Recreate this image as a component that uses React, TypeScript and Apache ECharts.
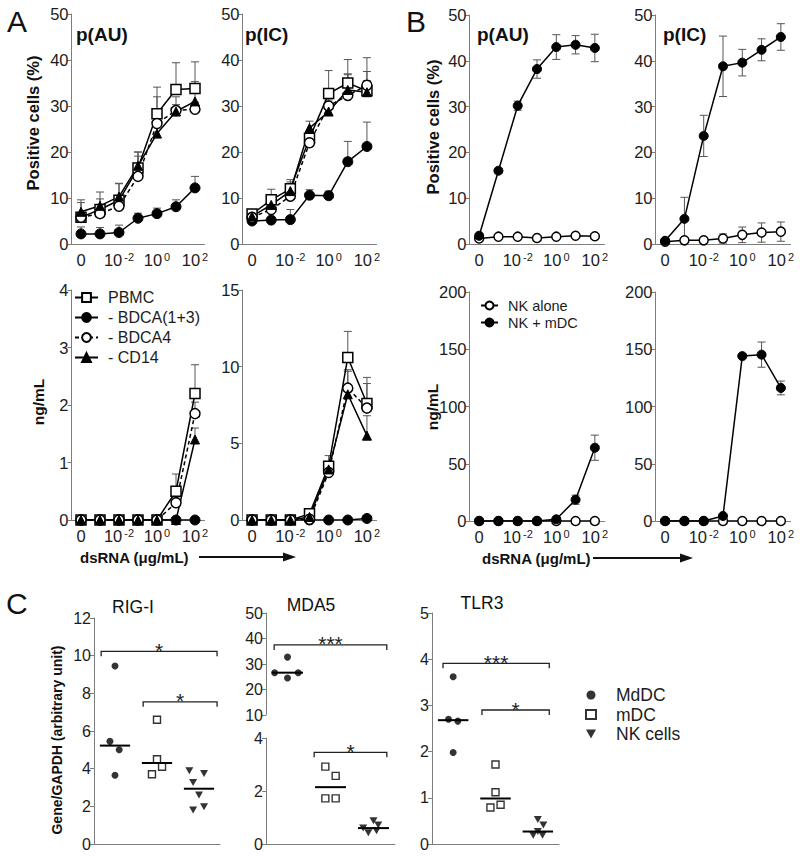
import React, { useEffect, useRef } from 'react';
import * as echarts from 'echarts';

// ---------- shared categories ----------
const doses = ['0', '10^-3', '10^-2', '10^-1', '10^0', '10^1', '10^2'];

// ---------- Panel A: % positive cells ----------
const aAU_PBMC = [5.8, 7.5, 9.5, 16.5, 28.3, 33.6, 33.8];
const aAU_PBMC_sd = [3.8, 3.8, 3.7, 3.5, 5.8, 5.8, 5.8];
const aAU_BDCA13 = [2.2, 2.2, 2.5, 5.6, 6.6, 8.1, 12.2];
const aAU_BDCA13_sd = [1.5, 1.4, 1.6, 1.1, 1.2, 1.5, 2.5];
const aAU_BDCA4 = [5.8, 6.6, 8.2, 14.7, 26.2, 29.0, 29.3];
const aAU_BDCA4_sd = [1.0, 1.0, 1.5, 4.4, 5.8, 3.0, 1.5];
const aAU_CD14 = [7.0, 8.3, 10.3, 17.0, 24.0, 28.8, 31.0];
const aAU_CD14_sd = [2.0, 1.5, 2.8, 3.0, 2.5, 1.5, 4.3];

const aIC_PBMC = [6.5, 9.6, 12.0, 23.0, 32.7, 35.0, 33.3];
const aIC_PBMC_sd = [1.0, 2.3, 2.0, 1.5, 5.0, 5.1, 4.2];
const aIC_BDCA13 = [5.0, 5.2, 5.3, 10.6, 10.5, 17.9, 21.2];
const aIC_BDCA13_sd = [0.5, 0.5, 2.2, 1.2, 1.0, 4.4, 5.3];
const aIC_BDCA4 = [5.8, 7.5, 10.4, 22.0, 30.0, 32.3, 34.5];
const aIC_BDCA4_sd = [1.0, 1.0, 1.5, 1.5, 3.5, 4.5, 6.0];
const aIC_CD14 = [6.0, 8.5, 11.5, 25.2, 28.8, 33.5, 33.0];
const aIC_CD14_sd = [1.0, 1.5, 2.0, 1.5, 2.5, 3.5, 2.5];

// ---------- Panel A: ng/mL ----------
const aAUng_PBMC = [0, 0, 0, 0, 0, 0.5, 2.2];
const aAUng_PBMC_sd = [0, 0, 0, 0, 0, 0.3, 0.5];
const aAUng_BDCA13 = [0, 0, 0, 0, 0, 0, 0];
const aAUng_BDCA13_sd = [0, 0, 0, 0, 0, 0, 0];
const aAUng_BDCA4 = [0, 0, 0, 0, 0, 0.3, 1.85];
const aAUng_BDCA4_sd = [0, 0, 0, 0, 0, 0.1, 0.2];
const aAUng_CD14 = [0, 0, 0, 0, 0, 0, 1.4];
const aAUng_CD14_sd = [0, 0, 0, 0, 0, 0, 0.2];

const aICng_PBMC = [0, 0, 0, 0.4, 3.5, 10.6, 7.6];
const aICng_PBMC_sd = [0, 0, 0, 0.1, 0.7, 1.7, 1.7];
const aICng_BDCA13 = [0, 0, 0, 0, 0, 0, 0.1];
const aICng_BDCA13_sd = [0, 0, 0, 0, 0, 0, 0];
const aICng_BDCA4 = [0, 0, 0, 0.05, 3.1, 8.6, 7.3];
const aICng_BDCA4_sd = [0, 0, 0, 0, 0.3, 1.2, 1.6];
const aICng_CD14 = [0, 0, 0, 0.2, 3.3, 8.2, 5.5];
const aICng_CD14_sd = [0, 0, 0, 0, 0.3, 1.5, 1.3];

// ---------- Panel B ----------
const bAU_mDC = [1.8, 16.0, 30.2, 38.2, 43.0, 43.5, 42.8];
const bAU_mDC_sd = [0.5, 0.5, 1.0, 2.0, 2.7, 2.0, 3.0];
const bAU_alone = [1.2, 1.6, 1.6, 1.3, 1.6, 1.8, 1.7];
const bAU_alone_sd = [0.3, 0.3, 0.3, 0.3, 0.3, 0.3, 0.3];
const bIC_mDC = [0.7, 5.5, 23.6, 38.8, 39.6, 42.4, 45.2];
const bIC_mDC_sd = [0.5, 4.7, 4.5, 6.6, 2.9, 2.4, 2.9];
const bIC_alone = [0.5, 0.8, 0.8, 1.2, 2.0, 2.5, 2.7];
const bIC_alone_sd = [0.2, 0.3, 0.3, 1.0, 1.7, 2.1, 2.1];

const bAUng_mDC = [0, 0, 0, 0, 1.5, 18.6, 64];
const bAUng_mDC_sd = [0, 0, 0, 0, 0.5, 4, 11];
const bAUng_alone = [0, 0, 0, 0, 0, 0, 0];
const bICng_mDC = [0, 0, 0, 4.4, 144, 145.3, 116.2];
const bICng_mDC_sd = [0, 0, 0, 0.5, 1, 11, 6];
const bICng_alone = [0, 0, 0, 0, 0, 0, 0];

// ---------- Panel C (value, jitter in band units) ----------
const rig_MdDC = [9.45, 5.45, 5.0, 3.65];
const rig_MdDC_jit = [0, -0.12, 0.1, 0];
const rig_mDC = [6.6, 4.5, 3.7, 4.1];
const rig_mDC_jit = [0, 0, -0.12, 0.12];
const rig_NK = [3.89, 3.75, 3.27, 2.6, 1.8, 1.98];
const rig_NK_jit = [-0.23, 0.12, -0.14, 0, -0.14, 0.12];

const mda_MdDC = [32.7, 26.6, 26.6, 24.5];
const mda_MdDC_jit = [0, -0.3, 0.25, 0];
const mda_mDC = [2.92, 2.57, 1.72, 1.72];
const mda_mDC_jit = [-0.12, 0.12, -0.12, 0.12];
const mda_NK = [0.88, 0.72, 0.6, 0.42, 0.5];
const mda_NK_jit = [0, 0.11, -0.24, -0.12, 0.07];

const tlr_MdDC = [3.62, 2.7, 2.66, 1.98];
const tlr_MdDC_jit = [0, -0.11, 0.11, 0];
const tlr_mDC = [1.72, 1.12, 0.79, 0.85];
const tlr_mDC_jit = [0, 0, -0.12, 0.12];
const tlr_NK = [0.53, 0.41, 0.19, 0.19, 0.27];
const tlr_NK_jit = [0, 0.13, -0.11, 0.11, 0];

// brackets: [fromX, toX, y, label]
const rig_brackets: [number, number, number, string][] = [
  [0.17, 2.93, 10.23, '*'],
  [1.17, 2.93, 7.55, '*'],
];
const mda_brackets_up: [number, number, number, string][] = [[0.19, 2.81, 37.5, '***']];
const mda_brackets_low: [number, number, number, string][] = [[1.12, 2.81, 3.46, '*']];
const tlr_brackets: [number, number, number, string][] = [
  [0.26, 2.77, 3.91, '***'],
  [1.18, 2.77, 2.9, '*'],
];

const FONT = '"Liberation Sans", Arial, Helvetica, sans-serif';
const AXIS = '#7d7d7d';
const TXT = '#1c1c1c';

const median = (a: number[]) => {
  const s = [...a].sort((x, y) => x - y);
  const n = s.length;
  return n % 2 ? s[(n - 1) / 2] : (s[n / 2 - 1] + s[n / 2]) / 2;
};

const fmtDose = (v: string) => {
  const m = /^10\^(.+)$/.exec(v);
  return m ? `10{s|${m[1]}}` : v;
};

function doseAxis(gi: number) {
  return {
    type: 'category',
    gridIndex: gi,
    data: doses,
    boundaryGap: true,
    axisLine: { lineStyle: { color: AXIS, width: 1 } },
    axisTick: { alignWithLabel: true, interval: 0, length: 4, lineStyle: { color: AXIS } },
    axisLabel: {
      interval: 1,
      fontSize: 16.5,
      color: TXT,
      margin: 7,
      formatter: fmtDose,
      rich: { s: { fontSize: 11, verticalAlign: 'top', padding: [0, 0, 0, 2], color: TXT } },
    },
  };
}

function valAxis(gi: number, max: number, interval: number, min = 0, fs = 16.5) {
  return {
    type: 'value',
    gridIndex: gi,
    min,
    max,
    interval,
    axisLine: { show: true, lineStyle: { color: AXIS, width: 1 } },
    axisTick: { show: true, length: 4, lineStyle: { color: AXIS } },
    splitLine: { show: false },
    axisLabel: { fontSize: fs, color: TXT, margin: 3 },
  };
}

function plainXAxis(gi: number, show = true) {
  return {
    type: 'value',
    gridIndex: gi,
    min: 0,
    max: 3,
    show,
    axisLine: { show: true, lineStyle: { color: AXIS } },
    axisTick: { show: false },
    axisLabel: { show: false },
    splitLine: { show: false },
  };
}

type Sty = { symbol: string; filled: boolean; dashed?: boolean };
const STY: Record<string, Sty> = {
  PBMC: { symbol: 'rect', filled: false },
  '- BDCA(1+3)': { symbol: 'circle', filled: true },
  '- BDCA4': { symbol: 'circle', filled: false, dashed: true },
  '- CD14': { symbol: 'triangle', filled: true },
  'NK alone': { symbol: 'circle', filled: false },
  'NK + mDC': { symbol: 'circle', filled: true },
};

function lineSeries(name: string, data: number[], gi: number, size: number) {
  const s = STY[name];
  return {
    type: 'line',
    name,
    xAxisIndex: gi,
    yAxisIndex: gi,
    data,
    symbol: s.symbol,
    symbolSize: s.symbol === 'triangle' ? size - 1 : size,
    showAllSymbol: true,
    z: 3,
    lineStyle: { color: '#000', width: 1.5, type: s.dashed ? [4, 3] : 'solid' },
    itemStyle: s.filled
      ? { color: '#000', borderColor: '#000', borderWidth: 1 }
      : { color: '#fff', borderColor: '#000', borderWidth: 1.5 },
  };
}

function errSeries(mean: number[], sd: number[], gi: number, both: boolean) {
  return {
    type: 'custom',
    xAxisIndex: gi,
    yAxisIndex: gi,
    z: 1,
    silent: true,
    encode: { x: 0, y: [1, 2] },
    data: mean.map((m, i) => [i, both ? m - sd[i] : m, m + sd[i]]),
    renderItem: (params: any, api: any) => {
      const x = api.value(0);
      const lo = api.coord([x, api.value(1)]);
      const hi = api.coord([x, api.value(2)]);
      if (Math.abs(hi[1] - lo[1]) < 0.5) return { type: 'group', children: [] };
      const w = 4;
      const st = { stroke: '#555', lineWidth: 1 };
      const ch: any[] = [
        { type: 'line', shape: { x1: lo[0], y1: lo[1], x2: hi[0], y2: hi[1] }, style: st },
        { type: 'line', shape: { x1: hi[0] - w, y1: hi[1], x2: hi[0] + w, y2: hi[1] }, style: st },
      ];
      if (both) ch.push({ type: 'line', shape: { x1: lo[0] - w, y1: lo[1], x2: lo[0] + w, y2: lo[1] }, style: st });
      return { type: 'group', children: ch };
    },
  };
}

const CSTY: Record<string, any> = {
  MdDC: { symbol: 'circle', symbolSize: 7, itemStyle: { color: '#000' } },
  mDC: { symbol: 'rect', symbolSize: 7, itemStyle: { color: '#fff', borderColor: '#000', borderWidth: 1.4 } },
  'NK cells': { symbol: 'path://M0,0L10,0L5,9Z', symbolSize: [8, 7], itemStyle: { color: '#000' } },
};

function scatterSeries(name: string, vals: number[], jit: number[], group: number, gi: number) {
  return {
    type: 'scatter',
    name,
    xAxisIndex: gi,
    yAxisIndex: gi,
    z: 3,
    data: vals.map((v, i) => [group + 0.5 + jit[i], v]),
    ...CSTY[name],
  };
}

function medianSeries(groups: [number, number[]][], gi: number) {
  return {
    type: 'custom',
    xAxisIndex: gi,
    yAxisIndex: gi,
    z: 4,
    silent: true,
    data: groups.map(([g, vals]) => [g, median(vals)]),
    renderItem: (params: any, api: any) => {
      const g = api.value(0);
      const m = api.value(1);
      const a = api.coord([g + 0.5 - 0.36, m]);
      const b = api.coord([g + 0.5 + 0.36, m]);
      return { type: 'line', shape: { x1: a[0], y1: a[1], x2: b[0], y2: b[1] }, style: { stroke: '#000', lineWidth: 2 } };
    },
  };
}

function bracketSeries(brackets: [number, number, number, string][], gi: number) {
  return {
    type: 'custom',
    xAxisIndex: gi,
    yAxisIndex: gi,
    z: 4,
    silent: true,
    data: brackets.map((b) => [b[0], b[1], b[2]]),
    renderItem: (params: any, api: any) => {
      const a = api.coord([api.value(0), api.value(2)]);
      const b = api.coord([api.value(1), api.value(2)]);
      const label = brackets[params.dataIndex][3];
      return {
        type: 'group',
        children: [
          {
            type: 'polyline',
            shape: { points: [[a[0], a[1] + 5], [a[0], a[1]], [b[0], b[1]], [b[0], b[1] + 5]] },
            style: { stroke: '#222', lineWidth: 1.3, fill: null },
          },
          {
            type: 'text',
            x: (a[0] + b[0]) / 2,
            y: a[1] - 1,
            style: { text: label, fontSize: 21, fontFamily: FONT, fill: '#222', align: 'center', verticalAlign: 'middle' },
          },
        ],
      };
    },
  };
}

const GRIDS = [
  { left: 71.5, top: 14, width: 133, height: 230 },
  { left: 242.5, top: 14, width: 134, height: 230 },
  { left: 71.5, top: 290, width: 133, height: 230 },
  { left: 242.5, top: 290, width: 134, height: 230 },
  { left: 469.5, top: 15, width: 135, height: 229 },
  { left: 655.5, top: 15, width: 135, height: 229 },
  { left: 469.5, top: 292, width: 135, height: 229 },
  { left: 655.5, top: 292, width: 135, height: 229 },
  { left: 94, top: 618, width: 126, height: 226 },
  { left: 266, top: 613, width: 129, height: 102 },
  { left: 266, top: 738, width: 129, height: 106 },
  { left: 432, top: 613, width: 127, height: 231 },
];

function buildOption() {
  const xAxis: any[] = [];
  const yAxis: any[] = [];
  for (let i = 0; i < 8; i++) xAxis.push(doseAxis(i));
  xAxis.push(plainXAxis(8), plainXAxis(9, false), plainXAxis(10), plainXAxis(11));
  yAxis.push(
    valAxis(0, 50, 10),
    valAxis(1, 50, 10),
    valAxis(2, 4, 1),
    valAxis(3, 15, 5),
    valAxis(4, 50, 10),
    valAxis(5, 50, 10),
    valAxis(6, 200, 50),
    valAxis(7, 200, 50),
    valAxis(8, 12, 2, 0, 16),
    valAxis(9, 50, 10, 10, 16),
    valAxis(10, 4, 2, 0, 16),
    valAxis(11, 5, 1, 0, 16),
  );

  const series: any[] = [];
  const addA = (gi: number, sets: [string, number[], number[]][]) => {
    sets.forEach(([n, d, sd]) => series.push(errSeries(d, sd, gi, false)));
    sets.forEach(([n, d]) => series.push(lineSeries(n, d, gi, 10)));
  };
  addA(0, [
    ['PBMC', aAU_PBMC, aAU_PBMC_sd],
    ['- BDCA(1+3)', aAU_BDCA13, aAU_BDCA13_sd],
    ['- BDCA4', aAU_BDCA4, aAU_BDCA4_sd],
    ['- CD14', aAU_CD14, aAU_CD14_sd],
  ]);
  addA(1, [
    ['PBMC', aIC_PBMC, aIC_PBMC_sd],
    ['- BDCA(1+3)', aIC_BDCA13, aIC_BDCA13_sd],
    ['- BDCA4', aIC_BDCA4, aIC_BDCA4_sd],
    ['- CD14', aIC_CD14, aIC_CD14_sd],
  ]);
  addA(2, [
    ['PBMC', aAUng_PBMC, aAUng_PBMC_sd],
    ['- BDCA(1+3)', aAUng_BDCA13, aAUng_BDCA13_sd],
    ['- BDCA4', aAUng_BDCA4, aAUng_BDCA4_sd],
    ['- CD14', aAUng_CD14, aAUng_CD14_sd],
  ]);
  addA(3, [
    ['PBMC', aICng_PBMC, aICng_PBMC_sd],
    ['- BDCA(1+3)', aICng_BDCA13, aICng_BDCA13_sd],
    ['- BDCA4', aICng_BDCA4, aICng_BDCA4_sd],
    ['- CD14', aICng_CD14, aICng_CD14_sd],
  ]);

  const addB = (gi: number, alone: number[], aloneSd: number[] | null, mdc: number[], mdcSd: number[]) => {
    if (aloneSd) series.push(errSeries(alone, aloneSd, gi, true));
    series.push(errSeries(mdc, mdcSd, gi, true));
    series.push(lineSeries('NK alone', alone, gi, 9));
    series.push(lineSeries('NK + mDC', mdc, gi, 9));
  };
  addB(4, bAU_alone, bAU_alone_sd, bAU_mDC, bAU_mDC_sd);
  addB(5, bIC_alone, bIC_alone_sd, bIC_mDC, bIC_mDC_sd);
  addB(6, bAUng_alone, null, bAUng_mDC, bAUng_mDC_sd);
  addB(7, bICng_alone, null, bICng_mDC, bICng_mDC_sd);

  // C: RIG-I
  series.push(
    scatterSeries('MdDC', rig_MdDC, rig_MdDC_jit, 0, 8),
    scatterSeries('mDC', rig_mDC, rig_mDC_jit, 1, 8),
    scatterSeries('NK cells', rig_NK, rig_NK_jit, 2, 8),
    medianSeries([[0, rig_MdDC], [1, rig_mDC], [2, rig_NK]], 8),
    bracketSeries(rig_brackets, 8),
  );
  // C: MDA5 (broken axis)
  series.push(
    scatterSeries('MdDC', mda_MdDC, mda_MdDC_jit, 0, 9),
    medianSeries([[0, mda_MdDC]], 9),
    bracketSeries(mda_brackets_up, 9),
    scatterSeries('mDC', mda_mDC, mda_mDC_jit, 1, 10),
    scatterSeries('NK cells', mda_NK, mda_NK_jit, 2, 10),
    medianSeries([[1, mda_mDC], [2, mda_NK]], 10),
    bracketSeries(mda_brackets_low, 10),
  );
  // C: TLR3
  series.push(
    scatterSeries('MdDC', tlr_MdDC, tlr_MdDC_jit, 0, 11),
    scatterSeries('mDC', tlr_mDC, tlr_mDC_jit, 1, 11),
    scatterSeries('NK cells', tlr_NK, tlr_NK_jit, 2, 11),
    medianSeries([[0, tlr_MdDC], [1, tlr_mDC], [2, tlr_NK]], 11),
    bracketSeries(tlr_brackets, 11),
  );

  const txt = (x: number, y: number, text: string, fontSize: number, opts: any = {}) => ({
    type: 'text',
    x,
    y,
    rotation: opts.rotation || 0,
    style: {
      text,
      fontSize,
      fontWeight: opts.bold ? 'bold' : 'normal',
      fontFamily: FONT,
      fill: '#111',
      align: opts.align || 'left',
      verticalAlign: 'middle',
    },
  });

  const arrow = (x1: number, x2: number, y: number) => [
    { type: 'line', shape: { x1, y1: y, x2: x2 - 10, y2: y }, style: { stroke: '#111', lineWidth: 2 } },
    { type: 'polygon', shape: { points: [[x2 - 13, y - 4.5], [x2, y], [x2 - 13, y + 4.5]] }, style: { fill: '#111' } },
  ];

  const graphic = [
    txt(7, 21, 'A', 30),
    txt(406, 21, 'B', 30),
    txt(6, 603, 'C', 30),
    txt(76, 34, 'p(AU)', 19, { bold: true }),
    txt(245, 34, 'p(IC)', 19, { bold: true }),
    txt(477, 34, 'p(AU)', 19, { bold: true }),
    txt(663, 34, 'p(IC)', 19, { bold: true }),
    txt(33, 123, 'Positive cells (%)', 16.5, { bold: true, rotation: Math.PI / 2, align: 'center' }),
    txt(433, 127, 'Positive cells (%)', 16.5, { bold: true, rotation: Math.PI / 2, align: 'center' }),
    txt(38, 402, 'ng/mL', 15.5, { bold: true, rotation: Math.PI / 2, align: 'center' }),
    txt(432, 407, 'ng/mL', 15.5, { bold: true, rotation: Math.PI / 2, align: 'center' }),
    txt(80, 557, 'dsRNA (μg/mL)', 15, { bold: true }),
    txt(482, 558, 'dsRNA (μg/mL)', 15, { bold: true }),
    ...arrow(199, 296, 557),
    ...arrow(593, 693, 558),
    txt(133, 607, 'RIG-I', 17.5, { align: 'center' }),
    txt(311, 605, 'MDA5', 17.5, { align: 'center' }),
    txt(482, 603, 'TLR3', 17.5, { align: 'center' }),
    txt(57, 740, 'Gene/GAPDH (arbitrary unit)', 14, { bold: true, rotation: Math.PI / 2, align: 'center' }),
  ];

  return {
    animation: false,
    backgroundColor: '#fff',
    textStyle: { fontFamily: FONT },
    grid: GRIDS,
    xAxis,
    yAxis,
    series,
    graphic,
    legend: [
      {
        data: ['PBMC', '- BDCA(1+3)', '- BDCA4', '- CD14'],
        orient: 'vertical',
        left: 69,
        top: 284.5,
        itemWidth: 23,
        itemHeight: 11,
        itemGap: 4,
        selectedMode: false,
        textStyle: { fontSize: 16, color: TXT, lineHeight: 13, padding: [0, 0, 0, 5] },
      },
      {
        data: ['NK alone', 'NK + mDC'],
        orient: 'vertical',
        left: 475,
        top: 293,
        itemWidth: 17,
        itemHeight: 10,
        itemGap: 2,
        selectedMode: false,
        textStyle: { fontSize: 14.5, color: TXT, lineHeight: 12, padding: [0, 0, 0, 5] },
      },
      {
        data: ['MdDC', 'mDC', 'NK cells'],
        orient: 'vertical',
        left: 580,
        top: 681,
        itemWidth: 10,
        itemHeight: 9,
        itemGap: 1.5,
        selectedMode: false,
        textStyle: { fontSize: 17.5, color: TXT, lineHeight: 14, padding: [0, 0, 0, 15] },
      },
    ],
  };
}

export default function App() {
  const ref = useRef<HTMLDivElement>(null);
  useEffect(() => {
    if (!ref.current) return;
    const chart = echarts.init(ref.current, undefined, { renderer: 'svg' });
    chart.setOption(buildOption() as any);
    return () => chart.dispose();
  }, []);
  return (
    <div
      ref={ref}
      style={{ position: 'absolute', left: 0, top: 0, width: 800, height: 857, background: '#fff' }}
    />
  );
}
